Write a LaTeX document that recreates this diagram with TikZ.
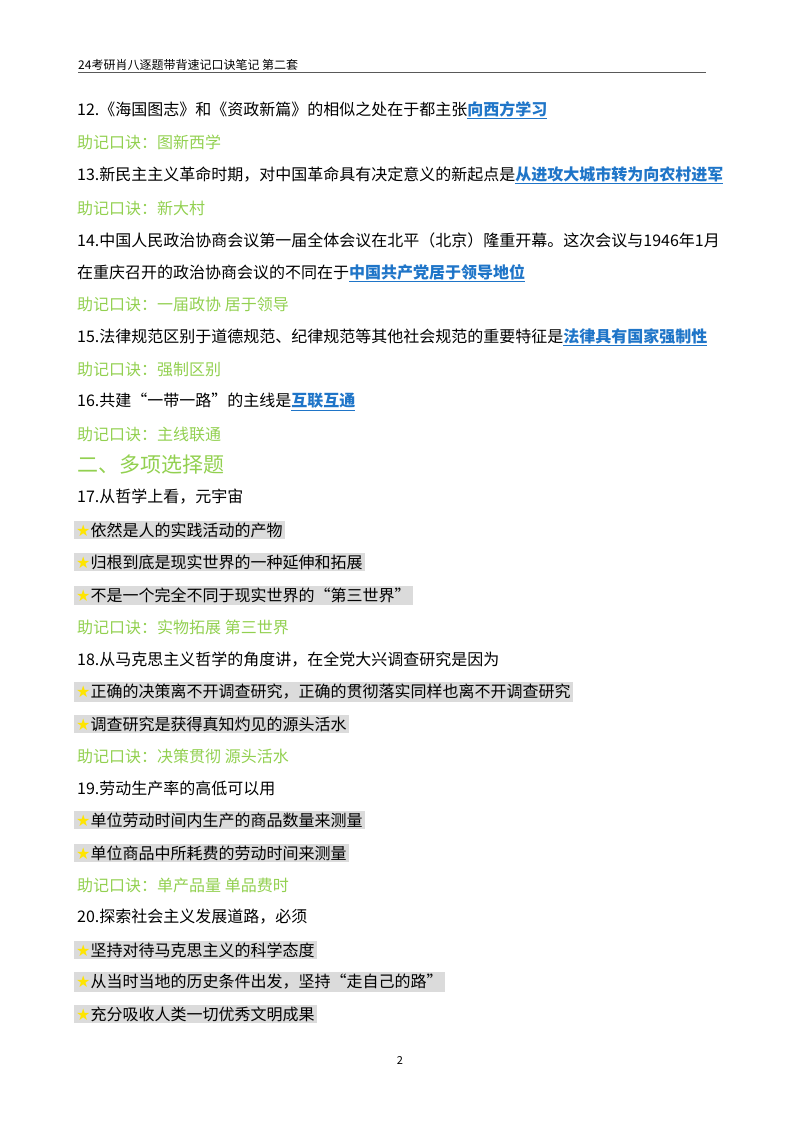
\documentclass[tikz,border=0pt]{standalone}
\usepackage{fontspec}
\setmainfont{Noto Sans CJK SC}
\newfontfamily\starfont{DejaVu Sans}
\usetikzlibrary{positioning}
\definecolor{kblue}{HTML}{1F75C8}
\definecolor{kgreen}{HTML}{92D050}
\definecolor{kstar}{HTML}{FFE500}
\newcommand{\kk}[1]{\textcolor{kblue}{\bfseries\underline{#1}}}
\newcommand{\st}{{\starfont\color{kstar}★}}
\begin{document}
\begin{tikzpicture}[x=1pt,y=-1pt,
  txt/.style={anchor=west,inner sep=1pt,font=\fontsize{16}{18}\selectfont},
  mem/.style={txt,text=kgreen},
  opt/.style={txt,fill=black!14,inner sep=2pt},
  head/.style={anchor=west,inner sep=0pt,font=\fontsize{12}{14}\selectfont}]
\useasboundingbox (0,0) rectangle (800,1132);
\node[head] (h) at (78,65) {24考研肖八逐题带背速记口诀笔记\ 第二套};
\draw[gray!70!black,line width=0.6pt] (78,72) -- (706,72);
\node[txt] (q12) at (76,110) {12.《海国图志》和《资政新篇》的相似之处在于都主张\kk{向西方学习}};
\node[mem] (m12) at (76,142) {助记口诀：图新西学};
\node[txt] (q13) at (76,175) {13.新民主主义革命时期，对中国革命具有决定意义的新起点是\kk{从进攻大城市转为向农村进军}};
\node[mem] (m13) at (76,208) {助记口诀：新大村};
\node[txt] (q14) at (76,240) {14.中国人民政治协商会议第一届全体会议在北平（北京）隆重开幕。这次会议与1946年1月};
\node[txt] (q14b) at (76,273) {在重庆召开的政治协商会议的不同在于\kk{中国共产党居于领导地位}};
\node[mem] (m14) at (76,304) {助记口诀：一届政协\ 居于领导};
\node[txt] (q15) at (76,337) {15.法律规范区别于道德规范、纪律规范等其他社会规范的重要特征是\kk{法律具有国家强制性}};
\node[mem] (m15) at (76,369) {助记口诀：强制区别};
\node[txt] (q16) at (76,402) {16.共建“一带一路”的主线是\kk{互联互通}};
\node[mem] (m16) at (76,434) {助记口诀：主线联通};
\node[anchor=west,inner sep=1pt,text=kgreen,font=\fontsize{21}{23}\selectfont] (sec) at (76,465) {二、多项选择题};
\node[txt] (q17) at (76,497) {17.从哲学上看，元宇宙};
\node[opt] (o171) at (74,530) {\st 依然是人的实践活动的产物};
\node[opt] (o172) at (74,562) {\st 归根到底是现实世界的一种延伸和拓展};
\node[opt] (o173) at (74,595) {\st 不是一个完全不同于现实世界的“第三世界”};
\node[mem] (m17) at (76,627) {助记口诀：实物拓展\ 第三世界};
\node[txt] (q18) at (76,660) {18.从马克思主义哲学的角度讲，在全党大兴调查研究是因为};
\node[opt] (o181) at (74,692) {\st 正确的决策离不开调查研究，正确的贯彻落实同样也离不开调查研究};
\node[opt] (o182) at (74,724) {\st 调查研究是获得真知灼见的源头活水};
\node[mem] (m18) at (76,756) {助记口诀：决策贯彻\ 源头活水};
\node[txt] (q19) at (76,788) {19.劳动生产率的高低可以用};
\node[opt] (o191) at (74,820) {\st 单位劳动时间内生产的商品数量来测量};
\node[opt] (o192) at (74,853) {\st 单位商品中所耗费的劳动时间来测量};
\node[mem] (m19) at (76,885) {助记口诀：单产品量\ 单品费时};
\node[txt] (q20) at (76,917) {20.探索社会主义发展道路，必须};
\node[opt] (o201) at (74,950) {\st 坚持对待马克思主义的科学态度};
\node[opt] (o202) at (74,982) {\st 从当时当地的历史条件出发，坚持“走自己的路”};
\node[opt] (o203) at (74,1014) {\st 充分吸收人类一切优秀文明成果};
\node[font=\fontsize{11}{13}\selectfont] (pg) at (400,1060) {2};
\end{tikzpicture}
\end{document}
